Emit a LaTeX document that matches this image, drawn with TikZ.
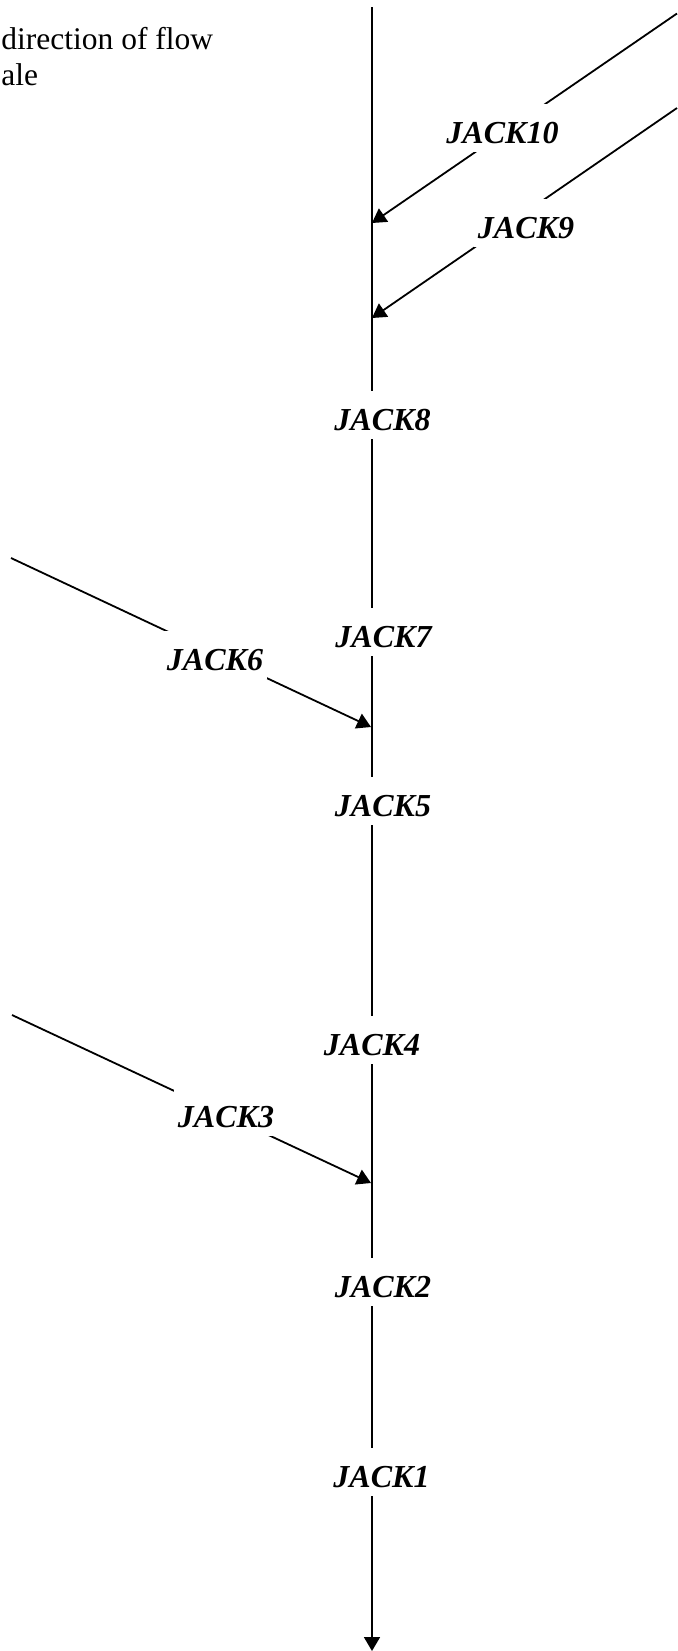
\documentclass[tikz,border=0pt]{standalone}
\usepackage{fontspec}
\setmainfont{Liberation Serif}
\usetikzlibrary{arrows.meta}

\tikzset{
  jack/.style={font=\fontsize{16}{18}\selectfont\bfseries\itshape, fill=white,
    inner xsep=2pt, inner ysep=4.5pt, text height=15pt, text depth=0pt, anchor=base},
  flow/.style={line width=0.9pt, -{Triangle[width=8pt,length=7pt]}},
  note/.style={font=\fontsize{15.75}{18}\selectfont, inner sep=0pt, anchor=base west}
}

\begin{document}
\begin{tikzpicture}[x=0.5pt,y=-0.5pt]
\useasboundingbox (0,0) rectangle (677,1651);
% ends of the lines
\coordinate (top) at (372,7);
\coordinate (bottom) at (372,1651);
\coordinate (in10) at (677,13.5);
\coordinate (tip10) at (372,223);
\coordinate (in9) at (677,108);
\coordinate (tip9) at (372,318);
\coordinate (in6) at (11,558);
\coordinate (tip6) at (371,727);
\coordinate (in3) at (12,1015);
\coordinate (tip3) at (371,1183);

\draw[flow] (top) -- (bottom); % main line
\draw[flow] (in10) -- (tip10);
\draw[flow] (in9) -- (tip9);
\draw[flow] (in6) -- (tip6);
\draw[flow] (in3) -- (tip3);

% labels sit on the lines
\node[jack] (jack10) at (502.5,143) {JACK10};
\node[jack] (jack9) at (526,238) {JACK9};
\node[jack] (jack8) at (382.5,430) {JACK8};
\node[jack] (jack7) at (383.5,647) {JACK7};
\node[jack] (jack6) at (215,670) {JACK6};
\node[jack] (jack5) at (383,816) {JACK5};
\node[jack] (jack4) at (372,1055) {JACK4};
\node[jack] (jack3) at (226,1127) {JACK3};
\node[jack] (jack2) at (383,1297) {JACK2};
\node[jack] (jack1) at (381.5,1487) {JACK1};

\node[note] (flowtxt) at (1,49) {direction of flow};
\node[note] (scaletxt) at (1,85) {ale};
\end{tikzpicture}
\end{document}
